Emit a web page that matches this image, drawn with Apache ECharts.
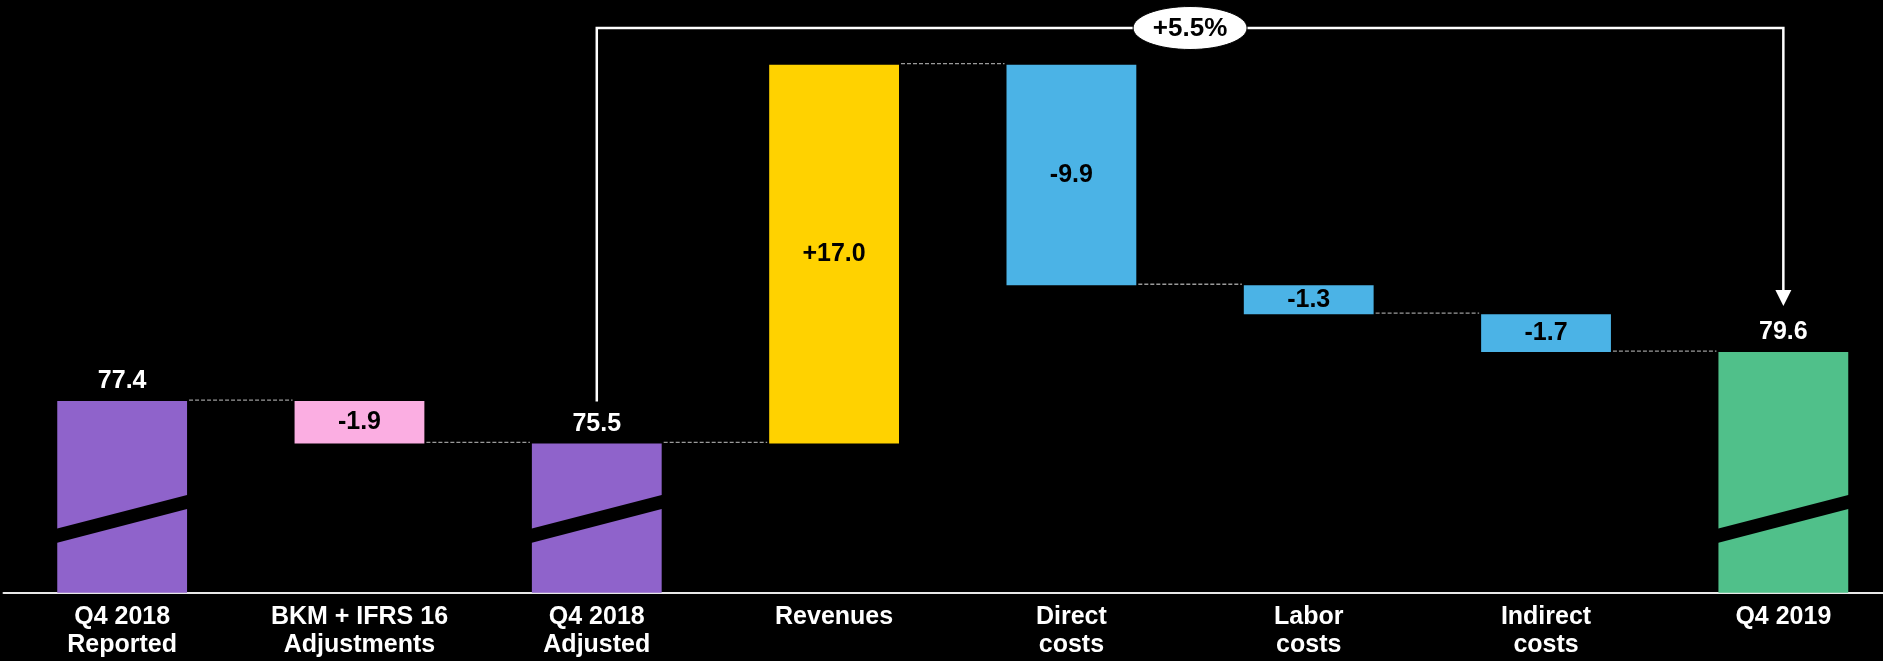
<!DOCTYPE html>
<html>
<head>
<meta charset="utf-8">
<title>Q4 2018 to Q4 2019 bridge</title>
<script src="https://cdn.jsdelivr.net/npm/echarts@6/dist/echarts.min.js"></script>
<style>
  html, body { margin: 0; padding: 0; background: #000; }
  #chart { width: 1883px; height: 661px; }
</style>
</head>
<body>
<div id="chart"></div>
<script>
// Categories along the bridge
const categories = [
  'Q4 2018\nReported',
  'BKM + IFRS 16\nAdjustments',
  'Q4 2018\nAdjusted',
  'Revenues',
  'Direct\ncosts',
  'Labor\ncosts',
  'Indirect\ncosts',
  'Q4 2019'
];
// Subtotal bars (null where the step is a change)
const totals = [77.4, null, 75.5, null, null, null, null, 79.6];
// Change steps (null where the bar is a subtotal)
const changes = [null, -1.9, null, 17.0, -9.9, -1.3, -1.7, null];
// Growth bracket between two subtotals
const growthFrom = 2;
const growthTo = 7;
const growthLabel = '+5.5%';

// Styling
const barColors = ['#8F63CB', '#FBAEE2', '#8F63CB', '#FFD200', '#4BB3E6', '#4BB3E6', '#4BB3E6', '#50C08A'];
const FONT = "'Liberation Sans', Arial, Helvetica, sans-serif";
const BAR_RATIO = 0.547;
const Y_MIN = 68.8, Y_MAX = 95;
// axis break stripe drawn across subtotal bars (value levels at left / right edge)
const BREAK = { upperL: 71.67, upperR: 73.2, lowerL: 71.03, lowerR: 72.57 };

function fmtChange(v) {
  return (v > 0 ? '+' : '') + v.toFixed(1);
}

// Build the running levels: [index, end, start, isTotal, shownValue]
const steps = [];
let level = 0;
categories.forEach((c, i) => {
  if (totals[i] != null) {
    level = totals[i];
    steps.push([i, totals[i], totals[i], 1, totals[i]]);
  } else {
    const start = level;
    const end = +(level + changes[i]).toFixed(2);
    level = end;
    steps.push([i, end, start, 0, changes[i]]);
  }
});

const chart = echarts.init(document.getElementById('chart'), null, { renderer: 'canvas' });

function renderStep(params, api) {
  const i = api.value(0);
  const end = api.value(1);
  const start = api.value(2);
  const isTotal = api.value(3) === 1;
  const shown = api.value(4);
  const cs = params.coordSys;
  const bandW = api.size([1, 0])[0];
  const w = bandW * BAR_RATIO;
  const pEnd = api.coord([i, end]);
  const cx = pEnd[0];
  const yEnd = pEnd[1];
  const yStart = isTotal ? cs.y + cs.height : api.coord([i, start])[1];
  const top = Math.min(yEnd, yStart);
  const bottom = Math.max(yEnd, yStart);
  const x0 = cx - w / 2, x1 = cx + w / 2;
  const children = [{
    type: 'rect',
    shape: { x: x0, y: top, width: w, height: bottom - top },
    style: { fill: barColors[i] }
  }];
  if (isTotal) {
    children.push({
      type: 'polygon',
      shape: {
        points: [
          [x0 - 1, api.coord([i, BREAK.upperL])[1]],
          [x1 + 1, api.coord([i, BREAK.upperR])[1]],
          [x1 + 1, api.coord([i, BREAK.lowerR])[1]],
          [x0 - 1, api.coord([i, BREAK.lowerL])[1]]
        ]
      },
      style: { fill: '#000' }
    });
    children.push({
      type: 'text',
      style: {
        text: shown.toFixed(1),
        x: cx, y: top - 7,
        align: 'center', verticalAlign: 'bottom',
        fill: '#fff', font: 'bold 25px ' + FONT
      }
    });
  } else {
    children.push({
      type: 'text',
      style: {
        text: fmtChange(shown),
        x: cx, y: (top + bottom) / 2,
        align: 'center', verticalAlign: 'middle',
        fill: '#000', font: 'bold 25px ' + FONT
      }
    });
  }
  if (i < categories.length - 1) {
    children.push({
      type: 'line',
      shape: { x1: x1 + 2, y1: yEnd - 1, x2: cx + bandW - w / 2 - 2, y2: yEnd - 1 },
      style: { stroke: '#9a9a9a', lineWidth: 1.3, lineDash: [4, 2] }
    });
  }
  return { type: 'group', children: children };
}

function renderBracket(params, api) {
  const cs = params.coordSys;
  const a = api.coord([api.value(0), api.value(1)]);
  const b = api.coord([api.value(2), api.value(3)]);
  const topY = cs.y + 19;
  const leftEnd = a[1] - 42;
  const tipY = b[1] - 46;
  const headLen = 16, headHalf = 8;
  const midX = (a[0] + b[0]) / 2;
  return {
    type: 'group',
    children: [
      {
        type: 'polyline',
        shape: { points: [[a[0], leftEnd], [a[0], topY], [b[0], topY], [b[0], tipY - headLen + 1]] },
        style: { stroke: '#fff', lineWidth: 2.5, fill: null }
      },
      {
        type: 'polygon',
        shape: { points: [[b[0] - headHalf, tipY - headLen], [b[0] + headHalf, tipY - headLen], [b[0], tipY]] },
        style: { fill: '#fff' }
      },
      {
        type: 'ellipse',
        shape: { cx: midX, cy: topY, rx: 57, ry: 21.5 },
        style: { fill: '#fff', stroke: '#000', lineWidth: 1 }
      },
      {
        type: 'text',
        style: {
          text: growthLabel,
          x: midX, y: topY + 1,
          align: 'center', verticalAlign: 'middle',
          fill: '#000', font: 'bold 26px ' + FONT
        }
      }
    ]
  };
}

chart.setOption({
  backgroundColor: '#000',
  animation: false,
  grid: { left: 3.5, right: -19, top: 9, bottom: 68.3, containLabel: false, outerBoundsMode: 'none' },
  xAxis: {
    type: 'category',
    data: categories,
    axisLine: { show: true, lineStyle: { color: '#e8e8e8', width: 2 } },
    axisTick: { show: false },
    axisLabel: {
      interval: 0,
      color: '#fff',
      fontFamily: FONT,
      fontWeight: 'bold',
      fontSize: 25,
      lineHeight: 28,
      margin: 10
    },
    splitLine: { show: false }
  },
  yAxis: {
    type: 'value',
    min: Y_MIN,
    max: Y_MAX,
    show: false,
    splitLine: { show: false }
  },
  series: [
    {
      type: 'custom',
      name: 'bridge',
      renderItem: renderStep,
      clip: false,
      silent: true,
      data: steps
    },
    {
      type: 'custom',
      name: 'growth',
      renderItem: renderBracket,
      clip: false,
      silent: true,
      data: [[growthFrom, totals[growthFrom], growthTo, totals[growthTo]]]
    }
  ]
});
</script>
</body>
</html>
